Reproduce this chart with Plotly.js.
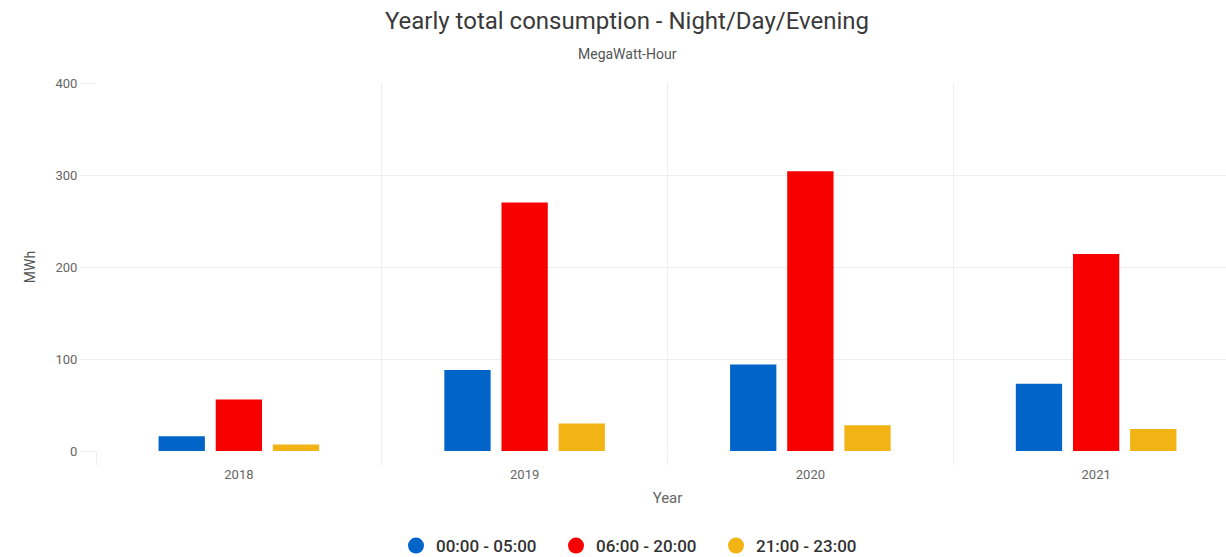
<!DOCTYPE html>
<html>
<head>
<meta charset="utf-8">
<script src="https://cdn.plot.ly/plotly-3.0.1.min.js"></script>
<style>
html, body { margin: 0; padding: 0; overflow: hidden; background: #fff; }
#chart { width: 1254px; height: 557px; }
</style>
</head>
<body>
<div id="chart"></div>
<script>
const years = ["2018", "2019", "2020", "2021"];
const seriesNames = ["00:00 - 05:00", "06:00 - 20:00", "21:00 - 23:00"];
const night = [16, 88, 94, 73];
const day = [56, 270, 304, 214];
const evening = [7, 30, 28, 24];
const yTicks = [0, 100, 200, 300, 400];

const colors = ["#0064c8", "#f70000", "#f2b414"];
const values = [night, day, evening];

const traces = [];
values.forEach((v, i) => {
  traces.push({
    type: "bar",
    x: years,
    y: v,
    name: seriesNames[i],
    legendgroup: "g" + i,
    showlegend: false,
    marker: { color: colors[i], line: { width: 0 } },
    hoverinfo: "x+y+name"
  });
});
values.forEach((v, i) => {
  traces.push({
    type: "scatter",
    mode: "markers",
    x: [null],
    y: [null],
    name: seriesNames[i],
    legendgroup: "g" + i,
    showlegend: true,
    marker: { color: colors[i], size: 18, symbol: "circle" },
    hoverinfo: "skip"
  });
});

const layout = {
  width: 1254,
  height: 557,
  margin: { l: 96, r: 15, t: 83, b: 105.5, autoexpand: false },
  paper_bgcolor: "#ffffff",
  plot_bgcolor: "#ffffff",
  font: { family: "Roboto, sans-serif", color: "#666666", size: 13 },
  title: {
    text: "Yearly total consumption - Night/Day/Evening",
    font: { family: "Roboto, sans-serif", size: 24, color: "#3a3a3a" },
    x: 0.5, xanchor: "center",
    y: 1 - 21 / 557, yanchor: "middle"
  },
  annotations: [{
    text: "MegaWatt-Hour",
    xref: "paper", yref: "paper",
    x: (627 - 96) / (1254 - 96 - 15), y: (451.5 - 54) / 368.5,
    xanchor: "center", yanchor: "middle",
    showarrow: false,
    font: { family: "Roboto, sans-serif", size: 14, color: "#555555" }
  }],
  barmode: "group",
  bargap: 0.40,
  bargroupgap: 0.19,
  xaxis: {
    type: "category",
    tickson: "boundaries",
    ticks: "outside",
    ticklen: 13,
    tickcolor: "#eeeeee",
    ticklabelstandoff: 14,
    showgrid: true,
    gridcolor: "#eeeeee",
    zeroline: false,
    showline: false,
    automargin: false,
    tickfont: { size: 13, color: "#666666" },
    title: { text: "Year", font: { size: 15, color: "#666666" }, standoff: 11 }
  },
  yaxis: {
    range: [0, 400],
    tickvals: yTicks,
    ticks: "outside",
    ticklen: 15,
    tickcolor: "#eeeeee",
    showgrid: true,
    gridcolor: "#eeeeee",
    zeroline: false,
    showline: false,
    automargin: false,
    tickfont: { size: 13, color: "#666666" },
    title: { text: "MWh", font: { size: 14, color: "#555555" }, standoff: 16 }
  },
  legend: {
    orientation: "h",
    xref: "container", yref: "container",
    x: 636 / 1254, xanchor: "center",
    y: (557 - 546) / 557, yanchor: "middle",
    entrywidth: 115,
    font: { family: "Roboto, sans-serif", size: 17, color: "#333333", weight: 500 },
    itemsizing: "trace"
  },
  showlegend: true
};

Plotly.newPlot("chart", traces, layout, { displayModeBar: false });
</script>
</body>
</html>
